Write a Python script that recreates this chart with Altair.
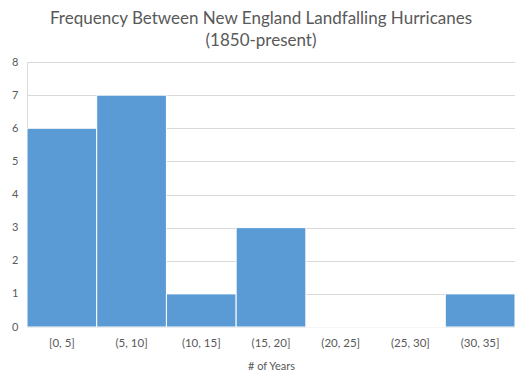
import altair as alt
import pandas as pd

bins = ["[0, 5]", "(5, 10]", "(10, 15]", "(15, 20]", "(20, 25]", "(25, 30]", "(30, 35]"]
counts = [6, 7, 1, 3, 0, 0, 1]
y_ticks = [0, 1, 2, 3, 4, 5, 6, 7, 8]

df = pd.DataFrame({"bin": bins, "count": counts})

grey = "#595959"
font = "Lato"

chart = alt.Chart(df).mark_bar(
    color="#5B9BD5", stroke="white", strokeWidth=1
).encode(
    x=alt.X("bin:N", sort=bins, title="# of Years",
            scale=alt.Scale(paddingInner=0, paddingOuter=0),
            axis=alt.Axis(labelAngle=0, ticks=False, domainColor="#d9d9d9",
                          labelColor=grey, labelFont=font, labelFontSize=11.5,
                          labelPadding=10, titleColor=grey, titleFont=font,
                          titleFontSize=11, titleFontWeight="normal", titlePadding=12)),
    y=alt.Y("count:Q", title=None,
            scale=alt.Scale(domain=[0, 8], nice=False),
            axis=alt.Axis(values=y_ticks, ticks=False, labelOverlap=False,
                          domain=True, domainColor="#d9d9d9",
                          gridColor="#d9d9d9", labelColor=grey, labelFont=font,
                          labelFontSize=11, labelPadding=9)),
).properties(
    width=488, height=265,
    title=alt.Title("Frequency Between New England Landfalling Hurricanes",
                    subtitle="(1850-present)",
                    font=font, fontSize=17, fontWeight="normal", color=grey,
                    subtitleFont=font, subtitleFontSize=17, subtitleColor=grey,
                    subtitleFontWeight="normal", subtitlePadding=5,
                    anchor="middle", dx=-10, offset=6),
    autosize=alt.AutoSizeParams(type="none"),
    padding={"left": 19, "top": 54, "right": 0, "bottom": 45},
).configure_view(stroke=None)

chart.save("out.html", embed_options={"renderer": "svg", "actions": False})
